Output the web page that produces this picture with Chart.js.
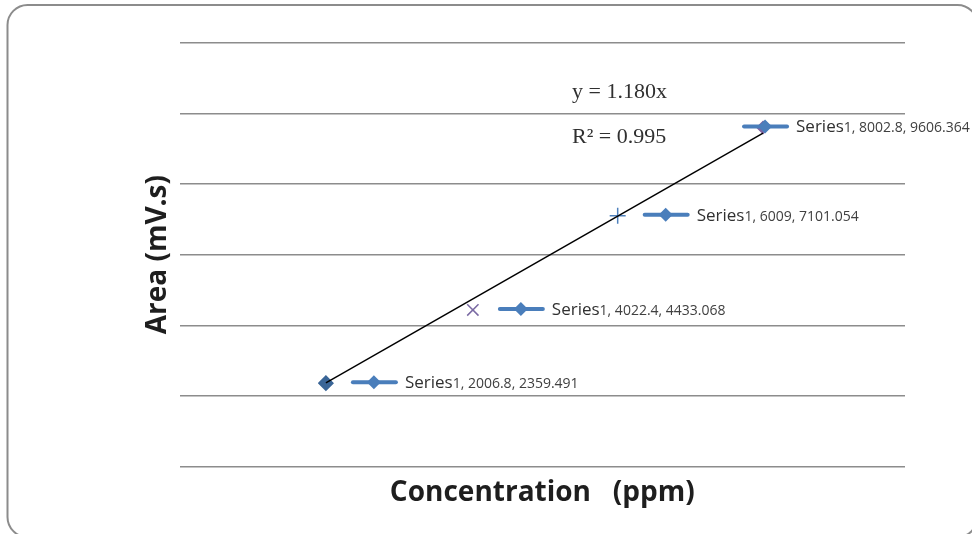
<!DOCTYPE html>
<html>
<head>
<meta charset="utf-8">
<script src="https://cdn.jsdelivr.net/npm/chart.js@4.4.1/dist/chart.umd.min.js"></script>
<style>
  html, body { margin: 0; padding: 0; background: #fff; overflow: hidden; }
</style>
</head>
<body>
<canvas id="chart" width="972" height="534"></canvas>
<script>
// data
const concentration = [2006.8, 4022.4, 6009, 8002.8];
const area = [2359.491, 4433.068, 7101.054, 9606.364];
const seriesName = 'Series1';
const trendSlope = 1.180;
const rSquared = 0.995;
const yTicks = [0, 2000, 4000, 6000, 8000, 10000, 12000];

// rounded frame round the whole chart
const framePlugin = {
  id: 'frame',
  beforeDraw(chart) {
    const ctx = chart.ctx;
    ctx.save();
    ctx.strokeStyle = '#8c8c8c';
    ctx.lineWidth = 2;
    ctx.beginPath();
    ctx.roundRect(7.5, 5, 970, 532, 20);
    ctx.stroke();
    ctx.restore();
  }
};

// excel style data labels with legend key, plus trend equation
const labelPlugin = {
  id: 'labels',
  afterDatasetsDraw(chart) {
    const ctx = chart.ctx;
    const pts = chart.getDatasetMeta(0).data;
    ctx.save();
    pts.forEach((p, i) => {
      const keyX = i === pts.length - 1 ? p.x - 19 : p.x + 27;
      const keyY = p.y - 1;
      ctx.strokeStyle = '#4a7ebb';
      ctx.lineWidth = 4;
      ctx.lineCap = 'round';
      ctx.beginPath();
      ctx.moveTo(keyX, keyY);
      ctx.lineTo(keyX + 43, keyY);
      ctx.stroke();
      const dx = keyX + 21;
      ctx.fillStyle = '#4a7ebb';
      ctx.beginPath();
      ctx.moveTo(dx, keyY - 7);
      ctx.lineTo(dx + 7, keyY);
      ctx.lineTo(dx, keyY + 7);
      ctx.lineTo(dx - 7, keyY);
      ctx.closePath();
      ctx.fill();

      const tx = keyX + 52;
      const ty = p.y + 5;
      ctx.textBaseline = 'alphabetic';
      ctx.textAlign = 'left';
      ctx.fillStyle = '#303030';
      ctx.font = '17px "Open Sans"';
      const head = seriesName.slice(0, 6);
      ctx.fillText(head, tx, ty);
      const w = ctx.measureText(head).width;
      ctx.fillStyle = '#404040';
      ctx.font = '14px "Open Sans"';
      ctx.fillText(seriesName.slice(6) + ', ' + concentration[i] + ', ' + area[i], tx + w, ty);
    });

    ctx.fillStyle = '#303030';
    ctx.font = '22px "Liberation Serif"';
    ctx.fillText('y = ' + trendSlope.toFixed(3) + 'x', 572, 98);
    ctx.fillText('R\u00B2 = ' + rSquared.toFixed(3), 572, 143);
    ctx.restore();
  }
};

const trendX = [concentration[0], concentration[concentration.length - 1]];

new Chart(document.getElementById('chart'), {
  type: 'scatter',
  data: {
    datasets: [
      {
        label: seriesName,
        data: concentration.map((x, i) => ({ x: x, y: area[i] })),
        pointStyle: ['rectRot', 'crossRot', 'cross', 'rectRot'],
        pointRadius: [7, 8, 8, 6],
        pointBackgroundColor: ['#3a6597', '#7a6aa3', '#4f81bd', '#7f64a2'],
        pointBorderColor: ['#3a6597', '#7a6aa3', '#4f81bd', '#7f64a2'],
        pointBorderWidth: 1.5,
        order: 1
      },
      {
        type: 'line',
        label: 'trend',
        data: trendX.map(x => ({ x: x, y: trendSlope * x })),
        borderColor: '#000',
        borderWidth: 1.5,
        pointRadius: 0,
        fill: false,
        order: 0
      }
    ]
  },
  options: {
    responsive: false,
    animation: false,
    layout: { padding: { left: 140, right: 67, top: 43, bottom: 21 } },
    plugins: {
      legend: { display: false },
      tooltip: { enabled: false }
    },
    scales: {
      x: {
        type: 'linear',
        min: 0,
        max: 9950,
        grid: { display: false, drawTicks: false },
        border: { display: false },
        ticks: { display: false },
        title: {
          display: true,
          text: 'Concentration   (ppm)',
          color: '#1e1e1e',
          font: { family: '"Open Sans"', size: 28, weight: 'bold' },
          padding: { top: 10, bottom: 3 }
        }
      },
      y: {
        min: 0,
        max: 12000,
        afterBuildTicks: (axis) => { axis.ticks = yTicks.map(v => ({ value: v })); },
        grid: { color: '#8c8c8c', lineWidth: 1.5, drawTicks: false },
        border: { display: false },
        ticks: { display: false },
        title: {
          display: true,
          text: 'Area (mV.s)',
          color: '#1e1e1e',
          font: { family: '"Open Sans"', size: 28, weight: 'bold' },
          padding: { top: 1, bottom: 5 }
        }
      }
    }
  },
  plugins: [framePlugin, labelPlugin]
});
</script>
</body>
</html>
